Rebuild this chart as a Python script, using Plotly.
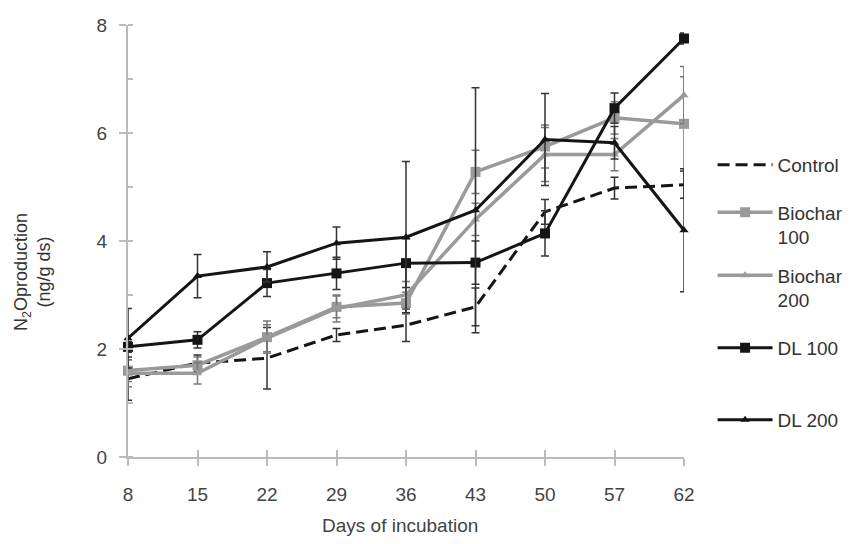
import plotly.graph_objects as go

days = ["8", "15", "22", "29", "36", "43", "50", "57", "62"]

control = [1.45, 1.74, 1.83, 2.26, 2.44, 2.78, 4.54, 4.98, 5.04]
control_err = [0.40, 0.15, 0.57, 0.12, 0.30, 0.35, 0.23, 0.20, 0.25]

biochar100 = [1.60, 1.70, 2.22, 2.78, 2.85, 5.28, 5.75, 6.28, 6.17]
biochar100_err = [0.20, 0.15, 0.30, 0.20, 0.20, 0.40, 0.40, 0.30, 0.87]

biochar200 = [1.55, 1.55, 2.20, 2.75, 3.00, 4.40, 5.60, 5.60, 6.70]
biochar200_err = [0.25, 0.20, 0.25, 0.25, 0.25, 0.30, 0.50, 0.30, 0.53]

dl100 = [2.04, 2.17, 3.22, 3.40, 3.59, 3.60, 4.14, 6.46, 7.75]
dl100_err = [0.10, 0.15, 0.25, 0.30, 0.45, 0.40, 0.42, 0.28, 0.10]

dl200 = [2.20, 3.35, 3.52, 3.96, 4.07, 4.57, 5.88, 5.82, 4.20]
dl200_err = [0.55, 0.40, 0.28, 0.30, 1.40, 2.27, 0.85, 0.30, 1.14]

BLACK = "#151515"
GRAY = "#9a9a9a"
FONT = "Liberation Sans, Arial, sans-serif"
TXT = "#444444"

series = [
    ("Control", control, control_err, BLACK, "#333333", dict(dash="12px,6px", width=3), None, "legend"),
    ("Biochar<br>100", biochar100, biochar100_err, GRAY, "#777777", dict(width=3.5), "square", "legend2"),
    ("Biochar<br>200", biochar200, biochar200_err, GRAY, "#777777", dict(width=3.5), "triangle-up", "legend3"),
    ("DL 100", dl100, dl100_err, BLACK, "#333333", dict(width=3), "square", "legend4"),
    ("DL 200", dl200, dl200_err, BLACK, "#333333", dict(width=3), "triangle-up", "legend5"),
]

fig = go.Figure()
for name, vals, err, col, ecol, line, sym, leg in series:
    fig.add_trace(go.Scatter(
        x=days, y=vals, name=name,
        mode="lines+markers" if sym else "lines",
        line=dict(color=col, **line),
        marker=dict(symbol=sym or "circle", size=10 if sym == "square" else 8, color=col),
        error_y=dict(type="data", array=err, visible=True, color=ecol, thickness=1.5, width=4),
        cliponaxis=False,
        legend=leg,
    ))

# overlay axis for the inner half of the crossing x ticks
fig.add_trace(go.Scatter(x=days, y=[None] * len(days), xaxis="x2", showlegend=False,
                         mode="lines", hoverinfo="skip"))

leg_common = dict(font=dict(family=FONT, size=19, color="#333333"), bgcolor="rgba(0,0,0,0)",
                  xanchor="left", yanchor="middle", valign="top", itemwidth=55)
legend_y = [165, 225, 288, 348, 420]

def py(p):
    return 1 - (p - 25) / (457 - 25)

layout_legends = {}
for i, key in enumerate(["legend", "legend2", "legend3", "legend4", "legend5"]):
    layout_legends[key] = dict(x=1.0514, y=py(legend_y[i]), **leg_common)

fig.update_layout(
    width=841, height=528,
    margin=dict(l=120, r=165, t=17, b=79, autoexpand=False),
    plot_bgcolor="white", paper_bgcolor="white",
    font=dict(family=FONT, size=18, color=TXT),
    showlegend=True,
    **layout_legends,
    xaxis=dict(type="category", range=[0, 8], showline=True, linecolor="#bbbbbb", linewidth=2,
               ticks="outside", ticklen=7, tickcolor="#bbbbbb", tickwidth=1.5,
               ticklabelstandoff=12,
               showgrid=False, zeroline=False,
               tickfont=dict(family=FONT, size=19, color=TXT)),
    xaxis2=dict(type="category", range=[0, 8], overlaying="x", side="bottom", anchor="y",
                ticks="inside", ticklen=7, tickcolor="#bbbbbb", tickwidth=1.5,
                showticklabels=False, showline=False, showgrid=False, zeroline=False),
    yaxis=dict(range=[0, 8], tickvals=[0, 2, 4, 6, 8], showline=True, linecolor="#bbbbbb", linewidth=2,
               ticks="outside", ticklen=7, tickcolor="#bbbbbb", tickwidth=1.5,
               ticklabelstandoff=8,
               minor=dict(dtick=1, ticks="inside", ticklen=5, tickcolor="#bbbbbb", tickwidth=1.5),
               showgrid=False, zeroline=False,
               tickfont=dict(family=FONT, size=19, color=TXT)),
)

fig.add_annotation(
    text="Days of incubation",
    xref="paper", yref="paper", x=(400 - 128) / 556, y=(457 - 525) / 432,
    xanchor="center", yanchor="middle",
    showarrow=False, font=dict(family=FONT, size=19, color=TXT),
)

fig.add_annotation(
    text="N<sub>2</sub>Oproduction<br>(ng/g ds)", textangle=-90,
    xref="paper", yref="paper", x=(32 - 128) / 556, y=py(272), xanchor="center", yanchor="middle",
    showarrow=False, font=dict(family=FONT, size=18, color="#333333"),
)

fig.write_html("out.html")
